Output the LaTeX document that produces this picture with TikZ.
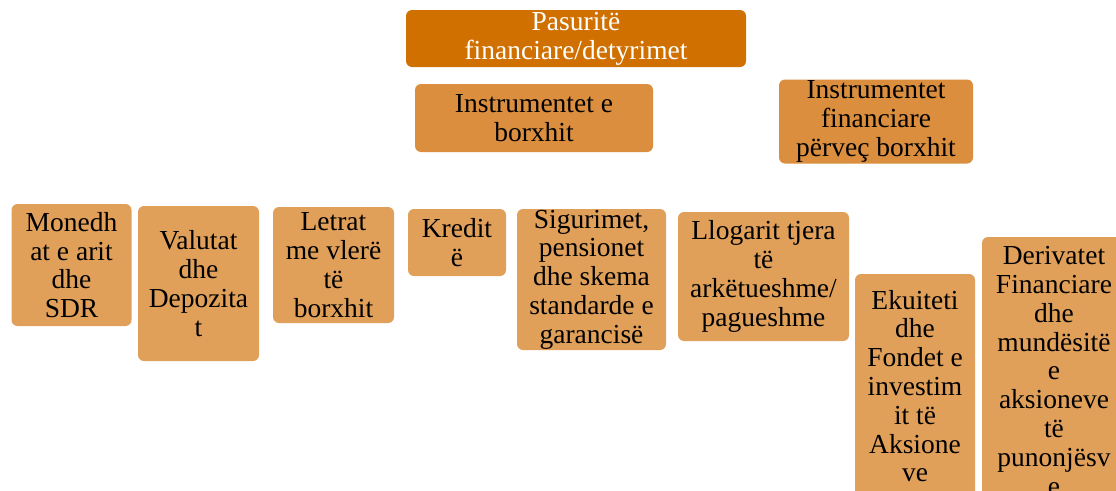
\documentclass[tikz,border=0pt]{standalone}
\usepackage{fontspec}
\setmainfont{Liberation Serif}
\definecolor{topc}{HTML}{D07000}
\definecolor{midc}{HTML}{DB8E3E}
\definecolor{lowc}{HTML}{E0A05A}
\tikzset{
  box/.style={rounded corners=6pt, inner sep=0pt, outer sep=0pt, align=center,
    font=\fontsize{27.5}{28.8}\selectfont, text=black},
  topbox/.style={box, fill=topc, text=white},
  midbox/.style={box, fill=midc},
  lowbox/.style={box, fill=lowc}
}
\begin{document}
\begin{tikzpicture}[x=1pt,y=-1pt]
\useasboundingbox (0,0) rectangle (1116,490);
\clip (0,0) rectangle (1116,490);
\fill[white] (0,0) rectangle (1116,490);
\node[topbox, minimum width=340pt, minimum height=57pt] (top) at (576,38.5) {Pasuritë\\financiare/detyrimet};
\node[midbox, minimum width=238pt, minimum height=68pt] (debt) at (534,118) {Instrumentet e\\borxhit};
\node[midbox, minimum width=194pt, minimum height=84pt] (nondebt) at (876,121.5) {Instrumentet\\financiare\\përveç borxhit};
\node[lowbox, minimum width=120pt, minimum height=122pt] (monedh) at (71.5,265) {Monedh\\at e arit\\dhe\\SDR};
\node[lowbox, minimum width=121pt, minimum height=155pt] (valutat) at (198.5,283.5) {Valutat\\dhe\\Depozita\\t};
\node[lowbox, minimum width=121pt, minimum height=116pt] (letrat) at (333.5,265) {Letrat\\me vlerë\\të\\borxhit};
\node[lowbox, minimum width=98pt, minimum height=67pt] (kredit) at (457,242.5) {Kredit\\ë};
\node[lowbox, minimum width=149pt, minimum height=141pt] (sigurimet) at (591.5,279.5) {Sigurimet,\\pensionet\\dhe skema\\standarde e\\garancisë};
\node[lowbox, minimum width=171pt, minimum height=129pt] (llogarit) at (763.5,276.5) {Llogarit tjera\\të\\arkëtueshme/\\pagueshme};
\node[lowbox, minimum width=120pt, minimum height=224pt] (ekuiteti) at (915,386) {Ekuiteti\\dhe\\Fondet e\\investim\\it të\\Aksione\\ve};
\node[lowbox, minimum width=144pt, minimum height=268pt] (derivatet) at (1054,371) {Derivatet\\Financiare\\dhe\\mundësitë\\e\\aksioneve\\të\\punonjësv\\e};
\end{tikzpicture}
\end{document}
